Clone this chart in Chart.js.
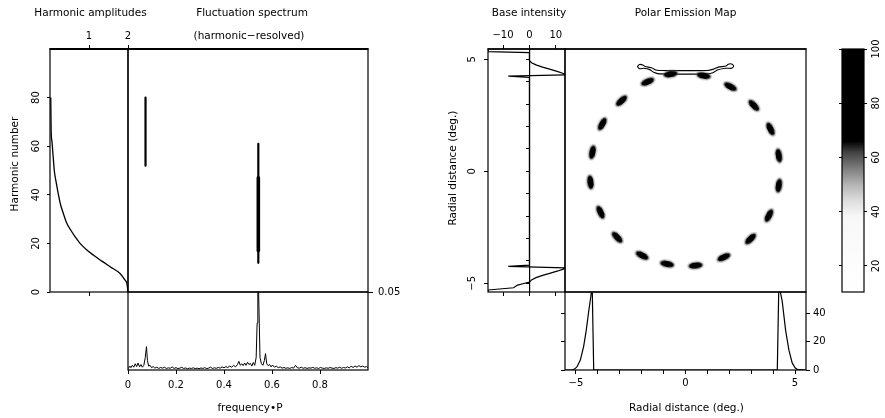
<!DOCTYPE html>
<html>
<head>
<meta charset="utf-8">
<title>Harmonic-resolved fluctuation spectrum and polar emission map</title>
<script src="https://cdn.jsdelivr.net/npm/chart.js@4.4.1/dist/chart.umd.min.js"></script>
<style>
html, body { margin:0; padding:0; background:#fff; }
#wrap { position:relative; width:885px; height:418px; overflow:hidden; background:#fff; }
#wrap canvas { position:absolute; left:0; top:0; }
</style>
</head>
<body>
<div id="wrap"></div>
<script>
// ================= DATA =================
// Harmonic amplitudes (left panel): amplitude vs harmonic number
const harmonicAmplitude = [0.02, 0.025, 0.03, 0.05, 0.07, 0.085, 0.11, 0.16, 0.21, 0.27, 0.34, 0.425, 0.53, 0.655, 0.77, 0.93, 1.11, 1.32, 1.54, 1.79, 1.92, 1.97, 1.99, 2.0];
const harmonicNumber    = [80, 72, 66, 62, 58, 55, 50, 45, 40.6, 36, 32.4, 28.5, 25.5, 22.5, 20, 17.5, 15.2, 12.8, 10.4, 7.7, 5.0, 3.6, 1.5, 0];
const harmonicTicks  = [0, 20, 40, 60, 80];
const amplitudeTicks = [1, 2];

// Harmonic-resolved fluctuation bands (frequency, harmonic range)
const bandFreq = [0.073, 0.543];
const bandLow  = [52, 12];
const bandHigh = [80, 61];
const bandCoreFreq = [0.543];
const bandCoreLow  = [17];
const bandCoreHigh = [47];

// Integrated fluctuation spectrum
const specFreq = [0.000,0.008,0.012,0.018,0.024,0.030,0.036,0.042,0.048,0.054,0.060,0.066,0.072,0.077,0.081,0.086,0.092,0.098,0.105,0.112,0.120,0.128,0.136,0.144,0.152,0.160,0.168,0.176,0.184,0.192,0.200,0.208,0.216,0.224,0.232,0.240,0.248,0.256,0.264,0.272,0.280,0.288,0.296,0.304,0.312,0.320,0.328,0.336,0.344,0.352,0.360,0.368,0.376,0.384,0.392,0.400,0.408,0.416,0.424,0.432,0.440,0.448,0.456,0.462,0.468,0.474,0.480,0.486,0.492,0.498,0.504,0.510,0.516,0.522,0.528,0.534,0.538,0.541,0.544,0.547,0.550,0.556,0.562,0.568,0.573,0.578,0.584,0.590,0.596,0.602,0.610,0.618,0.626,0.634,0.642,0.650,0.658,0.666,0.674,0.682,0.690,0.698,0.706,0.714,0.722,0.730,0.738,0.746,0.754,0.762,0.770,0.778,0.786,0.794,0.802,0.810,0.818,0.826,0.834,0.842,0.850,0.858,0.866,0.874,0.882,0.890,0.898,0.906,0.914,0.922,0.930,0.938,0.946,0.954,0.962,0.970,0.978,0.986,0.994,1.000];
const specPower = [0.0008,0.0025,0.0015,0.0030,0.0018,0.0040,0.0022,0.0045,0.0020,0.0035,0.0018,0.0030,0.0080,0.0150,0.0060,0.0025,0.0030,0.0015,0.0022,0.0012,0.0018,0.0010,0.0016,0.0012,0.0018,0.0010,0.0014,0.0011,0.0020,0.0010,0.0015,0.0009,0.0012,0.0017,0.0010,0.0013,0.0008,0.0012,0.0010,0.0014,0.0009,0.0012,0.0008,0.0013,0.0010,0.0015,0.0009,0.0012,0.0018,0.0010,0.0014,0.0011,0.0016,0.0012,0.0020,0.0014,0.0022,0.0016,0.0025,0.0018,0.0030,0.0020,0.0035,0.0055,0.0030,0.0040,0.0028,0.0045,0.0030,0.0050,0.0035,0.0042,0.0025,0.0048,0.0030,0.0080,0.0300,0.0520,0.0520,0.0300,0.0080,0.0040,0.0030,0.0060,0.0105,0.0040,0.0028,0.0035,0.0020,0.0032,0.0018,0.0025,0.0015,0.0020,0.0012,0.0016,0.0011,0.0014,0.0010,0.0016,0.0012,0.0030,0.0014,0.0012,0.0018,0.0011,0.0015,0.0010,0.0014,0.0012,0.0017,0.0011,0.0014,0.0010,0.0016,0.0012,0.0010,0.0014,0.0011,0.0016,0.0012,0.0010,0.0015,0.0012,0.0018,0.0011,0.0016,0.0013,0.0020,0.0014,0.0024,0.0016,0.0026,0.0018,0.0028,0.0020,0.0025,0.0018,0.0022,0.0015];
const freqTicks  = [0, 0.2, 0.4, 0.6, 0.8];
const powerTicks = [0.05];

// Base intensity profile (intensity vs radial distance)
const baseRadius    = [5.46, 5.34, 5.30, 4.95, 4.85, 4.75, 4.65, 4.55, 4.45, 4.38, 4.31, 4.25, 4.19, 0, -4.19, -4.25, -4.31, -4.38, -4.45, -4.55, -4.65, -4.75, -4.85, -4.95, -5.02, -5.08, -5.20, -5.30, -5.39];
const baseIntensity = [-15.7, -15.7, 0, 0, 0.8, 2.5, 5, 8, 10.8, 12.6, 14, -8, 0, 0, 0, -8, 14, 12.6, 10.8, 8, 5, 2.5, 0.8, 0, -2.5, -4.5, -6, -15.7, -15.7];
const intensityTicks   = [-10, 0, 10];
const radiusTicks      = [-5, 0, 5];
const radiusMinorTicks = [-5, -4, -3, -2, -1, 0, 1, 2, 3, 4, 5];

// Polar emission map: emission patches (x, y in deg.)
const blobX = [-1.73, -2.92, -3.80, -4.25, -4.34, -3.88, -3.12, -1.98, -0.84, 0.46, 1.75, 2.97, 3.81, 4.26, 4.26, 3.88, 3.12, 2.05, 0.83, -0.68];
const blobY = [4.00, 3.15, 2.11, 0.85, -0.49, -1.83, -2.95, -3.76, -4.14, -4.21, -3.84, -3.02, -1.98, -0.64, 0.70, 1.89, 2.94, 3.78, 4.27, 4.34];
// Contour outline above the ring
const contourX = [-2.2, -2.1, -1.95, -1.85, -1.55, -1.35, -1.2, 1.0, 1.25, 1.5, 1.85, 1.95, 2.1, 2.2, 2.1, 1.95, 1.8, 1.45, 1.25, 1.0, -1.2, -1.45, -1.65, -1.9, -2.1, -2.2];
const contourY = [4.68, 4.77, 4.75, 4.68, 4.62, 4.52, 4.50, 4.50, 4.55, 4.65, 4.70, 4.78, 4.79, 4.70, 4.60, 4.60, 4.60, 4.52, 4.40, 4.35, 4.35, 4.42, 4.55, 4.60, 4.58, 4.68];

// Radial profile (bottom right)
const profX = [-5.5, -5.17, -5.05, -4.95, -4.80, -4.65, -4.53, -4.43, -4.32, -4.26, -4.19, 4.19, 4.26, 4.41, 4.57, 4.72, 4.87, 5.00, 5.10, 5.5];
const profY = [0, 0, 0.8, 2.3, 7, 16.5, 28, 40, 52, 60, 0, 0, 60, 49, 28, 14, 5, 1.5, 0.5, 0];
const profTicks = [0, 20, 40];

// Colour bar
const cbarTicks  = [20, 40, 60, 80, 100];
const cmapValues = [10, 38, 44, 50, 56, 62, 66, 100];
const cmapGray   = [255, 248, 222, 180, 125, 65, 0, 0];

// ================= RENDERING =================
const W = 885, H = 418;
const FONT = "'DejaVu Sans', 'Liberation Sans', sans-serif";
Chart.defaults.font.family = FONT;
Chart.defaults.font.size = 10;
Chart.defaults.color = '#000';
Chart.defaults.animation = false;
Chart.defaults.responsive = false;
Chart.defaults.events = [];
Chart.defaults.plugins.legend.display = false;
Chart.defaults.plugins.tooltip.enabled = false;

const fmt = v => (v < 0 ? '\u2212' + Math.abs(v) : String(v));
const axisSize = new WeakMap();

const framePlugin = {
  id: 'frame',
  afterDraw(chart, args, o) {
    const a = chart.chartArea, c = chart.ctx;
    c.save();
    c.strokeStyle = '#000';
    c.lineWidth = o.width || 1.2;
    c.strokeRect(a.left, a.top, a.right - a.left, a.bottom - a.top);
    if (o.top) {
      c.lineWidth = o.top;
      c.beginPath(); c.moveTo(a.left - 0.5, a.top); c.lineTo(a.right + 0.5, a.top); c.stroke();
    }
    c.restore();
  }
};

function axis(position, min, max, tickValues, o = {}) {
  const shown = o.show;
  const s = {
    type: 'linear', position, min, max,
    afterBuildTicks: sc => { sc.ticks = tickValues.map(v => ({ value: v })); },
    grid: { display: true, drawOnChartArea: false, drawTicks: true, tickLength: (o.tickLength !== undefined ? o.tickLength : 4), color: '#000', lineWidth: 1 },
    border: { display: !!o.border, color: '#000', width: 1.2 },
    ticks: {
      display: o.labels !== false, padding: (o.padding !== undefined ? o.padding : 3), color: '#000',
      font: { size: 10, family: FONT },
      minRotation: o.rot || 0, maxRotation: o.rot || 0,
      crossAlign: o.crossAlign || 'near', autoSkip: false,
      callback: v => (shown && !shown.includes(v)) ? '' : fmt(v)
    }
  };
  if (o.axis) s.axis = o.axis;
  axisSize.set(s, o.labels === false ? 0 : (o.size || 22));
  return s;
}

function panel(rect, cfg, frameOpts) {
  const cv = document.createElement('canvas');
  cv.width = W; cv.height = H;
  cv.style.width = W + 'px'; cv.style.height = H + 'px';
  document.getElementById('wrap').appendChild(cv);
  cfg.options = cfg.options || {};
  cfg.options.devicePixelRatio = 1;
  const pad = { left: rect[0], top: rect[1], right: W - rect[2], bottom: H - rect[3] };
  for (const id in cfg.options.scales) {
    const s = cfg.options.scales[id];
    const size = axisSize.get(s) || 0;
    if (typeof s.position === 'string' && s.display !== false) pad[s.position] -= size;
    s.afterFit = sc => { if (sc.isHorizontal()) sc.height = size; else sc.width = size; };
  }
  cfg.options.layout = { padding: pad };
  cfg.options.plugins = Object.assign({ frame: frameOpts || {} }, cfg.options.plugins || {});
  cfg.plugins = (cfg.plugins || []).concat([framePlugin]);
  return new Chart(cv, cfg);
}

const lineDs = (data, extra) => Object.assign({
  data, showLine: true, borderColor: '#000', backgroundColor: '#000',
  borderWidth: 1.2, pointRadius: 0, tension: 0, fill: false, spanGaps: false
}, extra || {});

const zipXY = (xs, ys) => xs.map((x, i) => ({ x, y: ys[i] }));
const segments = (f, lo, hi) => f.flatMap((v, i) => [{ x: v, y: lo[i] }, { x: v, y: hi[i] }, { x: v, y: null }]);

// --- A: Harmonic amplitudes ---
panel([50, 49, 128, 292], {
  type: 'scatter',
  data: { datasets: [lineDs(zipXY(harmonicAmplitude, harmonicNumber), { cubicInterpolationMode: 'monotone', borderWidth: 1.3 })] },
  options: { scales: {
    x: axis('top', 0, 2, amplitudeTicks, { padding: 3 }),
    xb: axis('bottom', 0, 2, [1], { labels: false, axis: 'x' }),
    y: axis('left', 0, 100, harmonicTicks, { rot: 90, crossAlign: 'center', tickLength: 3, padding: 4, size: 30 })
  } }
}, { top: 2 });

// --- B: Fluctuation spectrum (harmonic-resolved) ---
panel([128, 49, 368, 292], {
  type: 'scatter',
  data: { datasets: [
    lineDs(segments(bandFreq, bandLow, bandHigh), { borderWidth: 2.2, borderCapStyle: 'round' }),
    lineDs(segments(bandCoreFreq, bandCoreLow, bandCoreHigh), { borderWidth: 3.6, borderCapStyle: 'round' })
  ] },
  options: { scales: {
    x: { type: 'linear', min: 0, max: 1, display: false },
    y: { type: 'linear', min: 0, max: 100, display: false }
  } }
}, { top: 2 });

// --- C: Integrated fluctuation spectrum ---
panel([128, 292, 368, 370], {
  type: 'scatter',
  data: { datasets: [lineDs(zipXY(specFreq, specPower), { borderWidth: 1 })] },
  options: { scales: {
    x: axis('bottom', 0, 1, freqTicks, { padding: 5, size: 25 }),
    y: axis('right', 0, 0.05, powerTicks, { tickLength: 5, padding: 5, size: 40 })
  } }
});

// --- D: Base intensity ---
panel([488, 49, 565, 292], {
  type: 'scatter',
  data: { datasets: [lineDs(zipXY(baseIntensity, baseRadius), { borderWidth: 1.2 })] },
  options: { scales: {
    x: axis('top', -15.7, 13.5, intensityTicks, { padding: 4, size: 24 }),
    xb: axis('bottom', -15.7, 13.5, intensityTicks, { labels: false, axis: 'x' }),
    y: axis('left', -5.39, 5.46, radiusTicks, { rot: 90, crossAlign: 'center', padding: 4, size: 28 }),
    y0: axis({ x: 0 }, -5.39, 5.46, radiusMinorTicks, { labels: false, border: true, tickLength: 3, axis: 'y' })
  } }
}, { top: 1.6 });

// --- E: Polar emission map ---
const blobImg = (() => {
  const c = document.createElement('canvas');
  c.width = 18; c.height = 10;
  const g = c.getContext('2d');
  g.fillStyle = 'rgba(110,110,110,0.45)';
  g.beginPath(); g.ellipse(9, 5, 8.5, 4.6, 0, 0, 2 * Math.PI); g.fill();
  g.fillStyle = '#000';
  g.beginPath(); g.ellipse(9, 5, 6.8, 3.1, 0, 0, 2 * Math.PI); g.fill();
  return c;
})();

panel([565, 49, 806, 292], {
  type: 'scatter',
  data: { datasets: [
    { data: zipXY(blobX, blobY), pointStyle: blobImg, pointRadius: 6,
      rotation: ctx => { const p = ctx.raw; if (!p) return 0; return 90 - Math.atan2(p.y, p.x) * 180 / Math.PI; } },
    lineDs(zipXY(contourX, contourY), { borderWidth: 1.1, tension: 0.25 })
  ] },
  options: { scales: {
    x: { type: 'linear', min: -5.5, max: 5.5, display: false },
    y: { type: 'linear', min: -5.39, max: 5.46, display: false }
  } }
}, { top: 1.6 });

// --- F: Radial profile ---
panel([565, 292, 806, 370], {
  type: 'scatter',
  data: { datasets: [lineDs(zipXY(profX, profY), { borderWidth: 1.2 })] },
  options: { scales: {
    x: axis('bottom', -5.5, 5.5, radiusMinorTicks, { padding: 3, size: 25, show: radiusTicks }),
    y: axis('right', 0, 55, profTicks, { padding: 3, size: 28 }),
    yl: axis('left', 0, 55, profTicks, { labels: false, axis: 'y', tickLength: 4 })
  } }
});

// --- G: Colour bar + titles ---
const titles = [
  ['Harmonic amplitudes', 90.5, 13, 0],
  ['Fluctuation spectrum', 252, 13, 0],
  ['(harmonic\u2212resolved)', 249, 36, 0],
  ['Base intensity', 529, 13, 0],
  ['Polar Emission Map', 685.5, 13, 0],
  ['frequency\u2022P', 250, 408, 0],
  ['Radial distance (deg.)', 686.5, 408, 0],
  ['Harmonic number', 15, 164, -90],
  ['Radial distance (deg.)', 453, 168, -90]
];
const titlePlugin = {
  id: 'titles',
  afterDraw(chart) {
    const c = chart.ctx;
    c.save();
    c.fillStyle = '#000';
    c.font = '10.5px ' + FONT;
    c.textAlign = 'center';
    c.textBaseline = 'middle';
    for (const [t, x, y, r] of titles) {
      c.save(); c.translate(x, y); c.rotate(r * Math.PI / 180); c.fillText(t, 0, 0); c.restore();
    }
    c.restore();
  }
};

panel([842, 49, 864, 292], {
  type: 'bar',
  data: { labels: [''], datasets: [{
    data: [[10.4, 100]], barPercentage: 1, categoryPercentage: 1, borderWidth: 0,
    backgroundColor: ctx => {
      const chart = ctx.chart, ys = chart.scales.y;
      if (!chart.chartArea || !ys) return '#888';
      const y0 = ys.getPixelForValue(ys.min), y1 = ys.getPixelForValue(ys.max);
      const g = chart.ctx.createLinearGradient(0, y0, 0, y1);
      cmapValues.forEach((v, i) => {
        const t = Math.min(1, Math.max(0, (v - ys.min) / (ys.max - ys.min)));
        const k = cmapGray[i];
        g.addColorStop(t, 'rgb(' + k + ',' + k + ',' + k + ')');
      });
      return g;
    }
  }] },
  options: { scales: {
    x: { type: 'category', display: false },
    y: axis('right', 10.4, 100, cbarTicks, { rot: 90, crossAlign: 'center', tickLength: 3, padding: 0, size: 20 }),
    yl: axis('left', 10.4, 100, cbarTicks, { labels: false, axis: 'y', tickLength: 3 })
  } },
  plugins: [titlePlugin]
});
</script>
</body>
</html>
